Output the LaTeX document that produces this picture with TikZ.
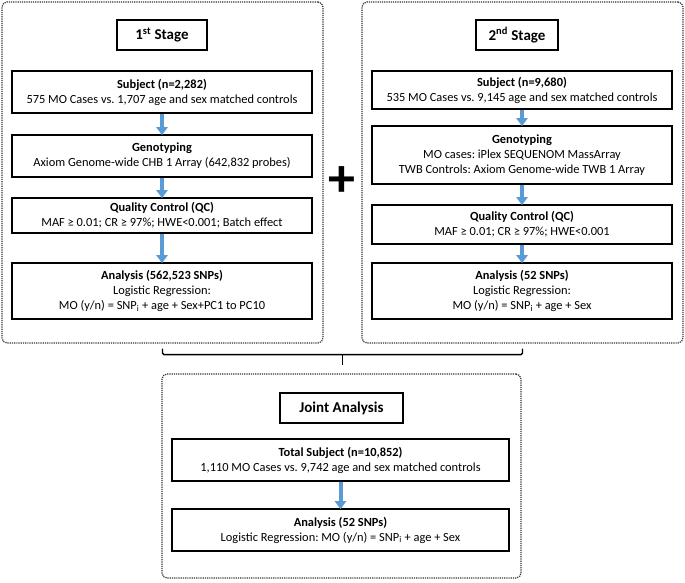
\documentclass[tikz,border=0pt]{standalone}
\usepackage{fontspec}
\setmainfont{Carlito}
\frenchspacing
\usetikzlibrary{arrows.meta, calc}
\definecolor{flowblue}{RGB}{91,155,213}
\begin{document}
\begin{tikzpicture}[x=1pt, y=-1pt,
    font=\fontsize{12.4}{15}\selectfont,
    stepbox/.style={draw, line width=1.6pt, rectangle, align=center, inner sep=0pt, minimum width=300pt},
    titlebox/.style={draw, line width=1.6pt, rectangle, inner sep=0pt, minimum height=30pt, font=\fontsize{15}{17}\selectfont\bfseries},
    stagebox/.style={draw=black!80, line width=1.2pt, densely dotted, rounded corners=5pt, rectangle, inner sep=0pt},
    flow/.style={-{Triangle[width=11pt, length=8pt]}, line width=4pt, flowblue, shorten >=-1pt}]
    \useasboundingbox (0,0) rectangle (685,582);

    % Outer stage frames
    \node[stagebox, minimum width=321pt, minimum height=341pt] (frameone) at (162.5,172.5) {};
    \node[stagebox, minimum width=321pt, minimum height=341pt] (frametwo) at (522.5,172.5) {};
    \node[stagebox, minimum width=359pt, minimum height=204pt] (framejoint) at (341.5,476) {};

    % 1st stage
    \node[titlebox, minimum width=90pt] (titleone) at (162,35) {1\textsuperscript{st} Stage};
    \node[stepbox, minimum height=42pt] (subjone) at (162,92) {\textbf{Subject (n=2,282)}\\575 MO Cases vs. 1,707 age and sex matched controls};
    \node[stepbox, minimum height=42pt] (genoone) at (162,156) {\textbf{Genotyping}\\Axiom Genome-wide CHB 1 Array (642,832 probes)};
    \node[stepbox, minimum height=35pt] (qcone) at (162,215.5) {\textbf{Quality Control (QC)}\\MAF ≥ 0.01; CR ≥ 97\%; HWE<0.001; Batch effect};
    \node[stepbox, minimum height=56pt] (anaone) at (162,291) {\textbf{Analysis (562,523 SNPs)}\\Logistic Regression:\\MO (y/n) = SNP\textsubscript{i} + age + Sex+PC1 to PC10};

    % 2nd stage
    \node[titlebox, minimum width=82pt] (titletwo) at (517,35) {2\textsuperscript{nd} Stage};
    \node[stepbox, minimum height=38pt] (subjtwo) at (522,90) {\textbf{Subject (n=9,680)}\\535 MO Cases vs. 9,145 age and sex matched controls};
    \node[stepbox, minimum height=58pt] (genotwo) at (522,155) {\textbf{Genotyping}\\MO cases: iPlex SEQUENOM MassArray\\TWB Controls: Axiom Genome-wide TWB 1 Array};
    \node[stepbox, minimum height=39pt] (qctwo) at (522,224.5) {\textbf{Quality Control (QC)}\\MAF ≥ 0.01; CR ≥ 97\%; HWE<0.001};
    \node[stepbox, minimum height=56pt] (anatwo) at (522,291) {\textbf{Analysis (52 SNPs)}\\Logistic Regression:\\MO (y/n) = SNP\textsubscript{i} + age + Sex};

    % Plus sign between stages
    \node[font=\fontsize{54}{54}\selectfont\bfseries, inner sep=0pt] (plus) at (342,182) {+};

    % Joint analysis
    \node[titlebox, minimum width=123pt] (titlejoint) at (341.5,408) {Joint Analysis};
    \node[stepbox, minimum width=337pt, minimum height=42pt] (subjjoint) at (340.5,460) {\textbf{Total Subject (n=10,852)}\\1,110 MO Cases vs. 9,742 age and sex matched controls};
    \node[stepbox, minimum width=337pt, minimum height=42pt] (anajoint) at (340.5,530) {\textbf{Analysis (52 SNPs)}\\Logistic Regression: MO (y/n) = SNP\textsubscript{i} + age + Sex};

    % Flow arrows
    \draw[flow] (subjone) -- (genoone);
    \draw[flow] (genoone) -- (qcone);
    \draw[flow] (qcone) -- (anaone);
    \draw[flow] (subjtwo) -- (genotwo);
    \draw[flow] (genotwo) -- (qctwo);
    \draw[flow] (qctwo) -- (anatwo);
    \draw[flow] (subjjoint) -- (anajoint);

    % Bracket joining both stages
    \coordinate (brackl) at ([yshift=-5pt]frameone.south);
    \coordinate (brackr) at ([yshift=-5pt]frametwo.south);
    \coordinate (brackm) at ($(brackl)!0.5!(brackr)+(0,6)$);
    \draw[line width=1.4pt, rounded corners=1.5pt] (brackl) -- ++(0,6) -| (brackr);
    \draw[line width=1.4pt] (brackm) -- ([yshift=8pt]framejoint.north -| brackm);
\end{tikzpicture}
\end{document}
